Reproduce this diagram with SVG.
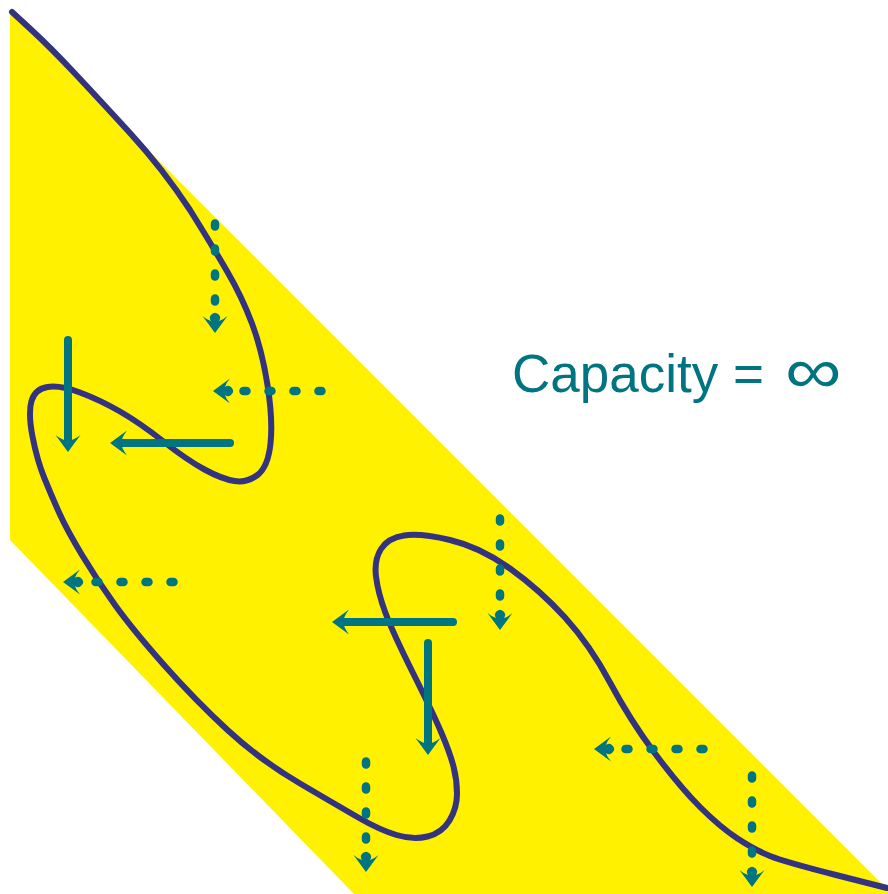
<svg xmlns="http://www.w3.org/2000/svg" width="888" height="894" viewBox="0 0 888 894">
<style>
.solid{fill:none;stroke:#007480;stroke-width:8;stroke-linecap:round;marker-end:url(#hs)}
.dot{fill:none;stroke:#007480;stroke-width:8.5;stroke-linecap:round;stroke-dasharray:3 22;marker-end:url(#hd)}
.curve{fill:none;stroke:#333380;stroke-width:6;stroke-linecap:round;stroke-linejoin:round}
.lbl{font-family:"Liberation Sans",Arial,sans-serif;font-size:53px;fill:#007480}
</style>
<defs>
<marker id="hs" markerUnits="userSpaceOnUse" viewBox="-20 -15 22 30" markerWidth="22" markerHeight="30" refX="-11" refY="0" orient="auto" overflow="visible">
<path d="M0,0 L-17,-12.5 Q-12,-6 -11,0 Q-12,6 -17,12.5 Z" fill="#007480"/>
</marker>
<marker id="hd" markerUnits="userSpaceOnUse" viewBox="-22 -15 24 30" markerWidth="24" markerHeight="30" refX="-13" refY="0" orient="auto" overflow="visible">
<path d="M0,0 L-17,-12.5 Q-13,-8 -12,-4 A5,5 0 1 0 -12,4 Q-13,8 -17,12.5 Z" fill="#007480"/>
</marker>
</defs>
<g id="region">
<path d="M10,10 L12,12 Q50,47 73.5,72 Q97,97 120,122 L888,890 L888,894 L354,894 L10,540 Z" fill="#FFF100"/>
</g>
<g id="cut-curve">
<path class="curve" d="M12,12 L31,29.5 Q50,47 73.5,72 Q97,97 130,133 Q163,169 190,210 Q213,247 227.5,272 Q242,297 252,323.5 Q262,350 267.5,385 Q273,420 270.5,443.5 Q268,467 257.5,475 Q247,483 234.5,481 Q222,479 204.5,469.5 Q187,460 163.5,441.5 Q140,423 120,411.5 Q100,400 80,392.5 Q60,385 47.5,387 Q35,389 31.5,401 Q28,413 32.5,436.5 Q37,460 44.5,478.5 Q52,497 59.5,513.5 Q67,530 82,555 Q97,580 115,605 Q133,630 164,665 Q195,700 227.5,730 Q260,760 300,783.5 Q340,807 360,818.5 Q380,830 396.5,835 Q413,840 427.5,836.5 Q442,833 449.5,820.5 Q457,808 457,794 Q457,780 453.5,766.5 Q450,753 441.5,733 Q433,713 413,673 Q393,633 385.5,613 Q378,593 376,576.5 Q374,560 381,549 Q388,538 404,535.5 Q420,533 450,540 Q480,547 510,568.5 Q540,590 565,617.5 Q590,645 610,682.5 Q630,720 655,753.5 Q680,787 700,807 Q720,827 737.5,838.5 Q755,850 770,856 Q785,862 836,875 L887,888"/>
</g>
<g id="connectors">
<path class="solid" d="M68,340 L68,441"/>
<path class="solid" d="M230,443 L121,443"/>
<path class="solid" d="M453,622 L343,622"/>
<path class="solid" d="M428,643 L428,744"/>
<path class="dot" d="M215,223.5 L215,320"/>
<path class="dot" d="M321.5,391 L226,391"/>
<path class="dot" d="M173.5,582 L76,582"/>
<path class="dot" d="M500,518.5 L500,617"/>
<path class="dot" d="M703.5,749 L607,749"/>
<path class="dot" d="M752,775.5 L752,874"/>
<path class="dot" d="M366,761.5 L366,859"/>
</g>
<g id="label">
<text class="lbl" x="512" y="392">Capacity =</text>
<text class="lbl" transform="translate(785,393) scale(1.22,1)" x="0" y="0" style="font-size:65px">∞</text>
</g>
</svg>
